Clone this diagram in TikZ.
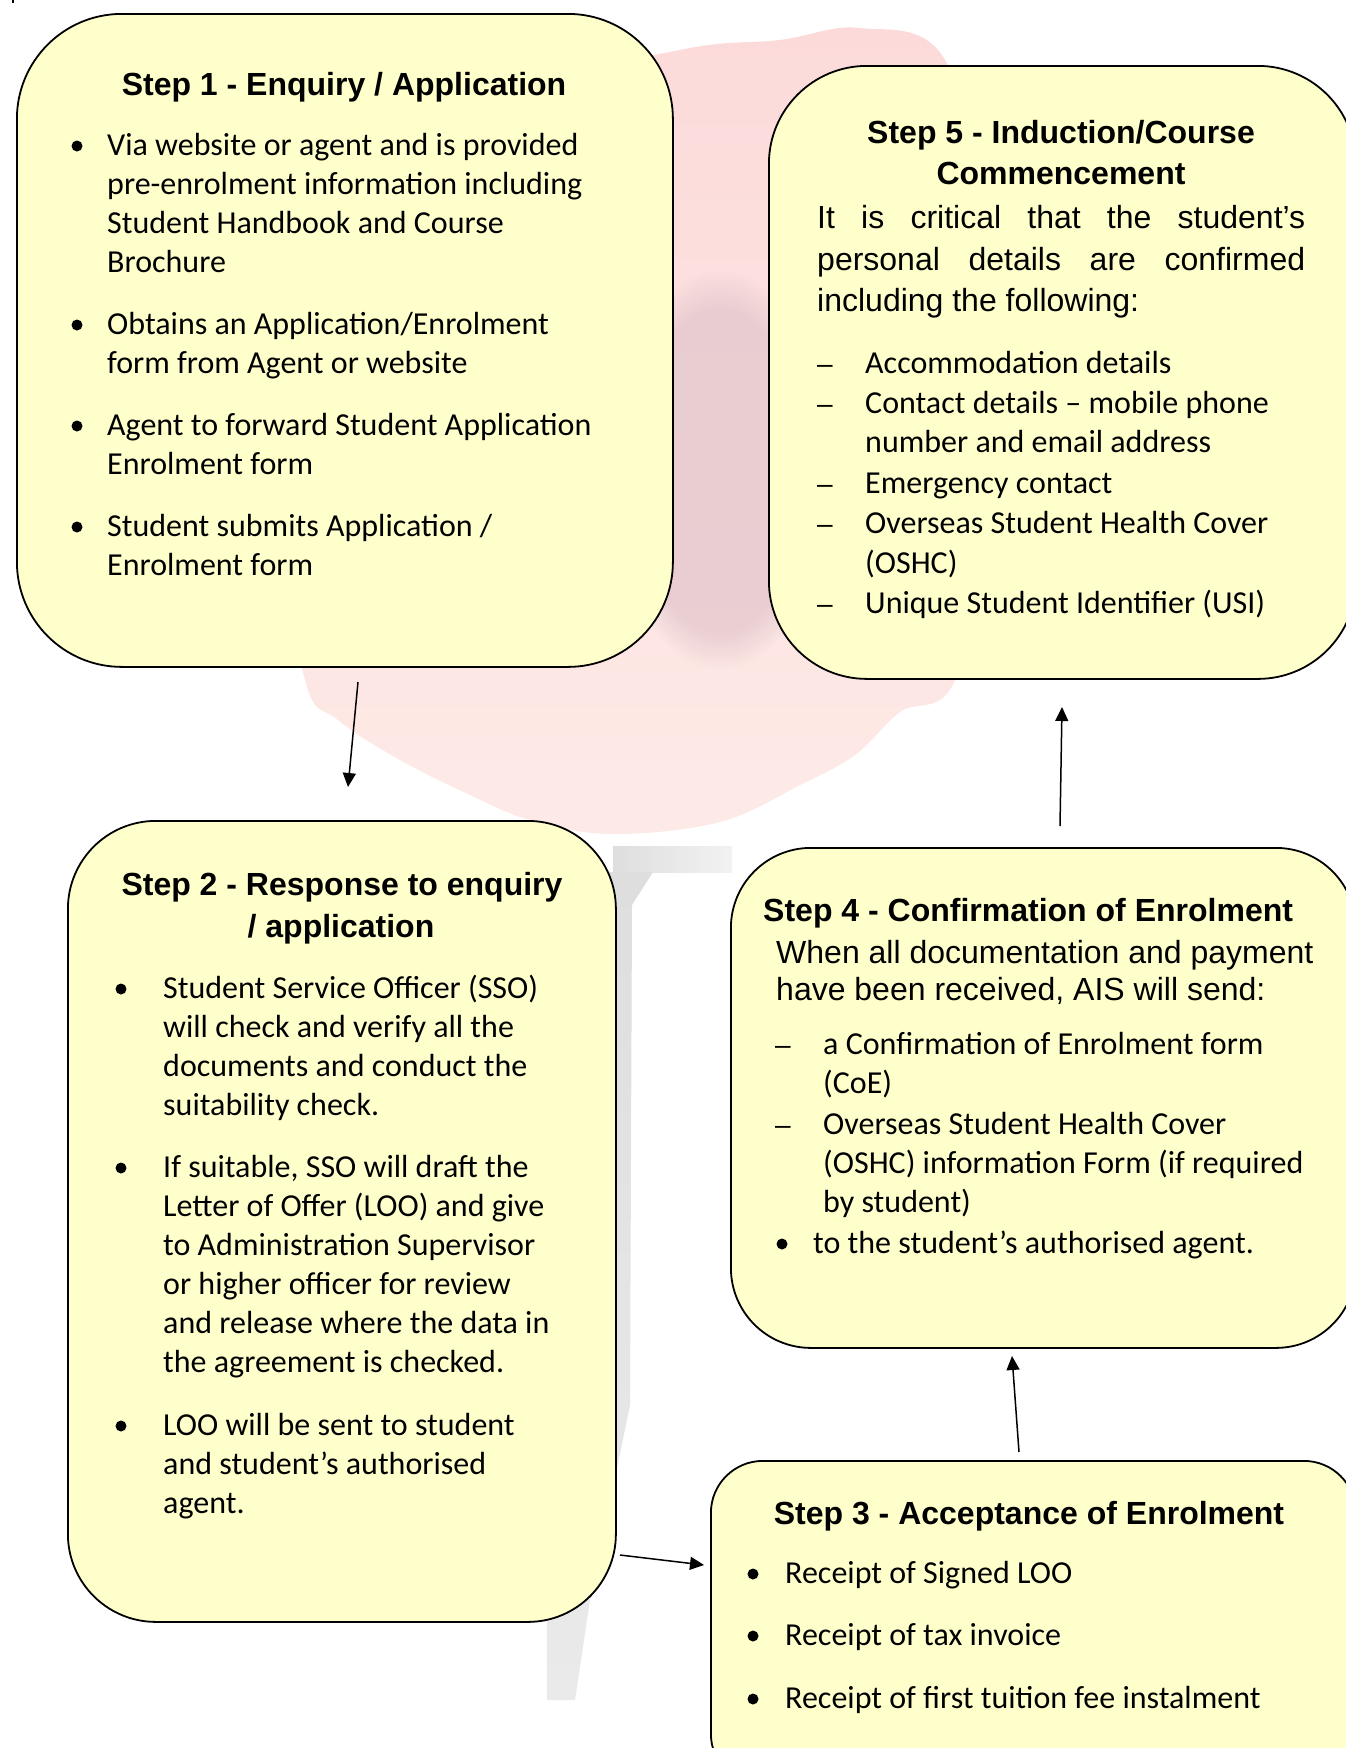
\documentclass[tikz,border=0pt]{standalone}
\usepackage{fontspec}
\setmainfont{Carlito}
\newfontfamily\arial{Liberation Sans}
\usetikzlibrary{arrows.meta,fadings}
\definecolor{boxyellow}{RGB}{255,255,204}
\definecolor{pinkA}{RGB}{252,218,218}
\definecolor{pinkB}{RGB}{253,234,230}
\definecolor{rosebg}{RGB}{228,200,206}
\definecolor{greyA}{RGB}{222,222,222}
\definecolor{greyB}{RGB}{242,242,242}
\definecolor{greyC}{RGB}{234,234,234}
\tikzset{
  stepbox/.style={draw=black, line width=1.8pt, fill=boxyellow, inner sep=0pt, anchor=north west},
  hd/.style={font=\arial\bfseries\fontsize{32}{38}\selectfont, inner sep=0pt, anchor=base},
  hdl/.style={font=\arial\bfseries\fontsize{32}{38}\selectfont, inner sep=0pt, anchor=base west},
  bd/.style={font=\fontsize{32}{39}\selectfont, inner sep=0pt, anchor=base west},
  ar/.style={font=\arial\fontsize{32}{40}\selectfont, inner sep=0pt, anchor=base west},
  dot/.style={circle, fill=black, inner sep=0pt, minimum size=11pt},
  dsh/.style={font=\arial\fontsize{28}{39}\selectfont, inner sep=0pt, anchor=base},
  conn/.style={line width=1.5pt, -{Triangle[length=14pt,width=13pt]}},
}
\begin{document}
\begin{tikzpicture}[x=1pt,y=-1pt]
\useasboundingbox (0,0) rectangle (1346,1748);
\clip (0,0) rectangle (1346,1748);
\fill[white] (0,0) rectangle (1346,1748);
% watermark
\shade[top color=pinkA, bottom color=pinkB] plot[smooth cycle, tension=0.6] coordinates {(860,28) (945,60) (990,250) (990,500) (955,680) (900,712) (855,755) (800,785) (720,822) (612,834) (530,820) (470,795) (400,760) (338,720) (305,680) (280,500) (350,250) (500,100) (680,50) (780,40)};
\fill[rosebg, fill opacity=0.8, path fading=circle with fuzzy edge 20 percent, fit fading=true] (720,470) ellipse (110 and 200);
\shade[left color=greyA, right color=greyB] (613,846) rectangle (732,872);
\shade[top color=greyA, bottom color=greyC] (547,872) -- (653,872) -- (632,905) -- (630,1405) -- (590,1600) -- (575,1700) -- (547,1700) -- cycle;
\fill (12,0) rectangle (14,3);
% boxes
\node[stepbox, rounded corners=105pt, minimum width=656pt, minimum height=653pt] (box1) at (16,13) {};
\node[stepbox, rounded corners=88pt, minimum width=548pt, minimum height=801pt] (box2) at (67,820) {};
\node[stepbox, rounded corners=52pt, minimum width=645pt, minimum height=325pt] (box3) at (710,1460) {};
\node[stepbox, rounded corners=80pt, minimum width=625pt, minimum height=500pt] (box4) at (730,847) {};
\node[stepbox, rounded corners=98pt, minimum width=587pt, minimum height=613pt] (box5) at (768,65) {};
% Step 1
\node[hd] (s1h) at (344,95) {Step 1 - Enquiry / Application};
\node[dot] (s1b1) at (77,146) {};
\node[dot] (s1b2) at (77,325) {};
\node[dot] (s1b3) at (77,426) {};
\node[dot] (s1b4) at (77,527) {};
\node[bd] (s1t1) at (107,155) {Via website or agent and is provided};
\node[bd] (s1t2) at (107,194) {pre-enrolment information including};
\node[bd] (s1t3) at (107,233) {Student Handbook and Course};
\node[bd] (s1t4) at (107,272) {Brochure};
\node[bd] (s1t5) at (107,334) {Obtains an Application/Enrolment};
\node[bd] (s1t6) at (107,373) {form from Agent or website};
\node[bd] (s1t7) at (107,435) {Agent to forward Student Application};
\node[bd] (s1t8) at (107,474) {Enrolment form};
\node[bd] (s1t9) at (107,536) {Student submits Application /};
\node[bd] (s1t10) at (107,575) {Enrolment form};
% Step 2
\node[hd] (s2h1) at (342,895) {Step 2 - Response to enquiry};
\node[hd] (s2h2) at (341,937) {/ application};
\node[dot] (s2b1) at (121,989) {};
\node[dot] (s2b2) at (121,1168) {};
\node[dot] (s2b3) at (121,1426) {};
\node[bd] (s2t1) at (163,998) {Student Service Officer (SSO)};
\node[bd] (s2t2) at (163,1037) {will check and verify all the};
\node[bd] (s2t3) at (163,1076) {documents and conduct the};
\node[bd] (s2t4) at (163,1115) {suitability check.};
\node[bd] (s2t5) at (163,1177) {If suitable, SSO will draft the};
\node[bd] (s2t6) at (163,1216) {Letter of Offer (LOO) and give};
\node[bd] (s2t7) at (163,1255) {to Administration Supervisor};
\node[bd] (s2t8) at (163,1294) {or higher officer for review};
\node[bd] (s2t9) at (163,1333) {and release where the data in};
\node[bd] (s2t10) at (163,1372) {the agreement is checked.};
\node[bd] (s2t11) at (163,1435) {LOO will be sent to student};
\node[bd] (s2t12) at (163,1474) {and student’s authorised};
\node[bd] (s2t13) at (163,1513) {agent.};
% Step 3
\node[hd] (s3h) at (1029,1524) {Step 3 - Acceptance of Enrolment};
\node[dot] (s3b1) at (753,1574) {};
\node[dot] (s3b2) at (753,1636) {};
\node[dot] (s3b3) at (753,1699) {};
\node[bd] (s3t1) at (785,1583) {Receipt of Signed LOO};
\node[bd] (s3t2) at (785,1645) {Receipt of tax invoice};
\node[bd] (s3t3) at (785,1708) {Receipt of first tuition fee instalment};
% Step 4
\node[hdl] (s4h) at (763,921) {Step 4 - Confirmation of Enrolment};
\node[ar] (s4p1) at (776,963) {When all documentation and payment};
\node[ar] (s4p2) at (776,1000) {have been received, AIS will send:};
\node[dsh] (s4d1) at (783,1054) {–};
\node[dsh] (s4d2) at (783,1134) {–};
\node[bd] (s4t1) at (823,1054) {a Confirmation of Enrolment form};
\node[bd] (s4t2) at (823,1093) {(CoE)};
\node[bd] (s4t3) at (823,1134) {Overseas Student Health Cover};
\node[bd] (s4t4) at (823,1173) {(OSHC) information Form (if required};
\node[bd] (s4t5) at (823,1212) {by student)};
\node[dot] (s4b1) at (782,1244) {};
\node[bd] (s4t6) at (813,1253) {to the student’s authorised agent.};
% Step 5
\node[hd] (s5h1) at (1061,143) {Step 5 - Induction/Course};
\node[hd] (s5h2) at (1061,184) {Commencement};
\node[ar] (s5p1) at (817,228) {\makebox[488pt][s]{It is critical that the student’s}};
\node[ar] (s5p2) at (817,270) {\makebox[488pt][s]{personal details are confirmed}};
\node[ar] (s5p3) at (817,311) {including the following:};
\node[dsh] (s5d1) at (825,373) {–};
\node[dsh] (s5d2) at (825,413) {–};
\node[dsh] (s5d3) at (825,493) {–};
\node[dsh] (s5d4) at (825,533) {–};
\node[dsh] (s5d5) at (825,613) {–};
\node[bd] (s5t1) at (865,373) {Accommodation details};
\node[bd] (s5t2) at (865,413) {Contact details – mobile phone};
\node[bd] (s5t3) at (865,452) {number and email address};
\node[bd] (s5t4) at (865,493) {Emergency contact};
\node[bd] (s5t5) at (865,533) {Overseas Student Health Cover};
\node[bd] (s5t6) at (865,573) {(OSHC)};
\node[bd] (s5t7) at (865,613) {Unique Student Identifier (USI)};
% connectors
\coordinate (a1s) at (358,682);
\coordinate (a1e) at (348,787);
\coordinate (a2s) at (620,1555);
\coordinate (a2e) at (704,1565);
\coordinate (a3s) at (1019,1452);
\coordinate (a3e) at (1012,1356);
\coordinate (a4s) at (1060,826);
\coordinate (a4e) at (1062,707);
\draw[conn] (a1s) -- (a1e);
\draw[conn] (a2s) -- (a2e);
\draw[conn] (a3s) -- (a3e);
\draw[conn] (a4s) -- (a4e);
\end{tikzpicture}
\end{document}
